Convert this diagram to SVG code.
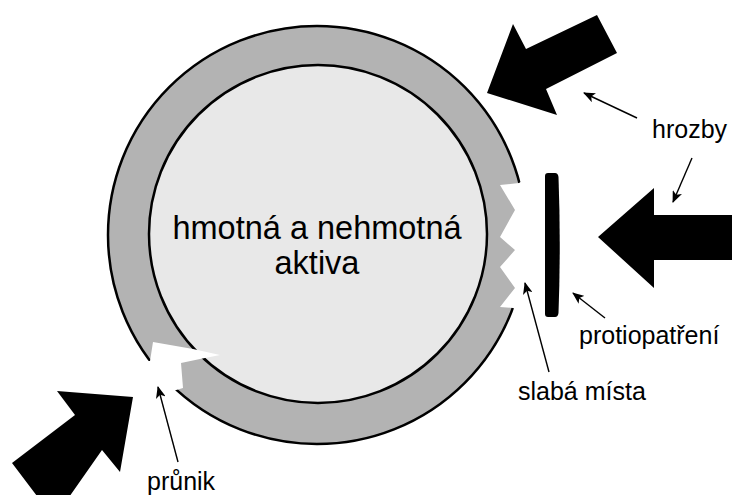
<svg xmlns="http://www.w3.org/2000/svg" width="732" height="495" viewBox="0 0 732 495">
<style>
  .lbl { font-family: "Liberation Sans", Arial, sans-serif; font-size: 25px; fill: #000; }
  .main { font-family: "Liberation Sans", Arial, sans-serif; font-size: 32.5px; fill: #000; text-anchor: middle; }
  .block { fill: #000; }
  .gap { fill: #fff; stroke: none; }
  .ptr { stroke: #000; stroke-width: 1.4; fill: none; marker-end: url(#ah); }
</style>
<defs>
  <marker id="ah" viewBox="0 0 12 10" refX="11" refY="5" markerWidth="12" markerHeight="10" markerUnits="userSpaceOnUse" orient="auto">
    <path d="M0,0 L12,5 L0,10 L3,5 Z" fill="#000"/>
  </marker>
</defs>
<rect width="732" height="495" fill="#fff"/>

<g id="aktiva">
  <circle cx="317" cy="235" r="209" fill="#b3b3b3" stroke="#000" stroke-width="2.5"/>
  <polygon class="gap" points="519,183 500,185 515,210 500,237 515,250 500,267 515,288 500,307 513,308 540,320 540,170"/>
  <circle cx="318" cy="234" r="169" fill="#e8e8e8" stroke="#000" stroke-width="2.5"/>
  <polygon class="gap" points="145,361 150,361 153,342 193,349 220,355 200,359 181,363 183,388 173,391 160,393 140,370"/>
  <text class="main" x="317" y="239">hmotná a nehmotná</text>
  <text class="main" x="317" y="274">aktiva</text>
</g>

<g id="hrozba-horni">
  <polygon class="block" points="487,93 513,24 526,49 597,15 617,53 546,89 557,115"/>
</g>
<g id="hrozba-prava">
  <polygon class="block" points="598,237 654,188 654,215 740,215 740,260 654,260 654,288"/>
</g>
<g id="hrozba-dolni">
  <polygon class="block" points="133,397 57,391 75,415 12,463 40,500 60,510 102,450 120,472"/>
</g>

<g id="protiopatreni">
  <path class="block" d="M545,176 Q545,173 548,173 L555,173 Q558,173 558.5,177 Q561,245 558.5,313 Q558,317 555,317 L548,317 Q545,317 545,314 Z"/>
</g>

<g id="popisky">
  <text class="lbl" x="652" y="138">hrozby</text>
  <text class="lbl" x="579" y="344">protiopatření</text>
  <text class="lbl" x="518" y="400">slabá místa</text>
  <text class="lbl" x="147" y="490">průnik</text>
</g>

<g id="connectors">
  <line class="ptr" x1="637" y1="118" x2="584" y2="93"/>
  <line class="ptr" x1="692" y1="158" x2="673" y2="202"/>
  <line class="ptr" x1="605" y1="318" x2="573" y2="293"/>
  <line class="ptr" x1="549" y1="372" x2="525" y2="283"/>
  <line class="ptr" x1="178" y1="462" x2="158" y2="387"/>
</g>
</svg>
